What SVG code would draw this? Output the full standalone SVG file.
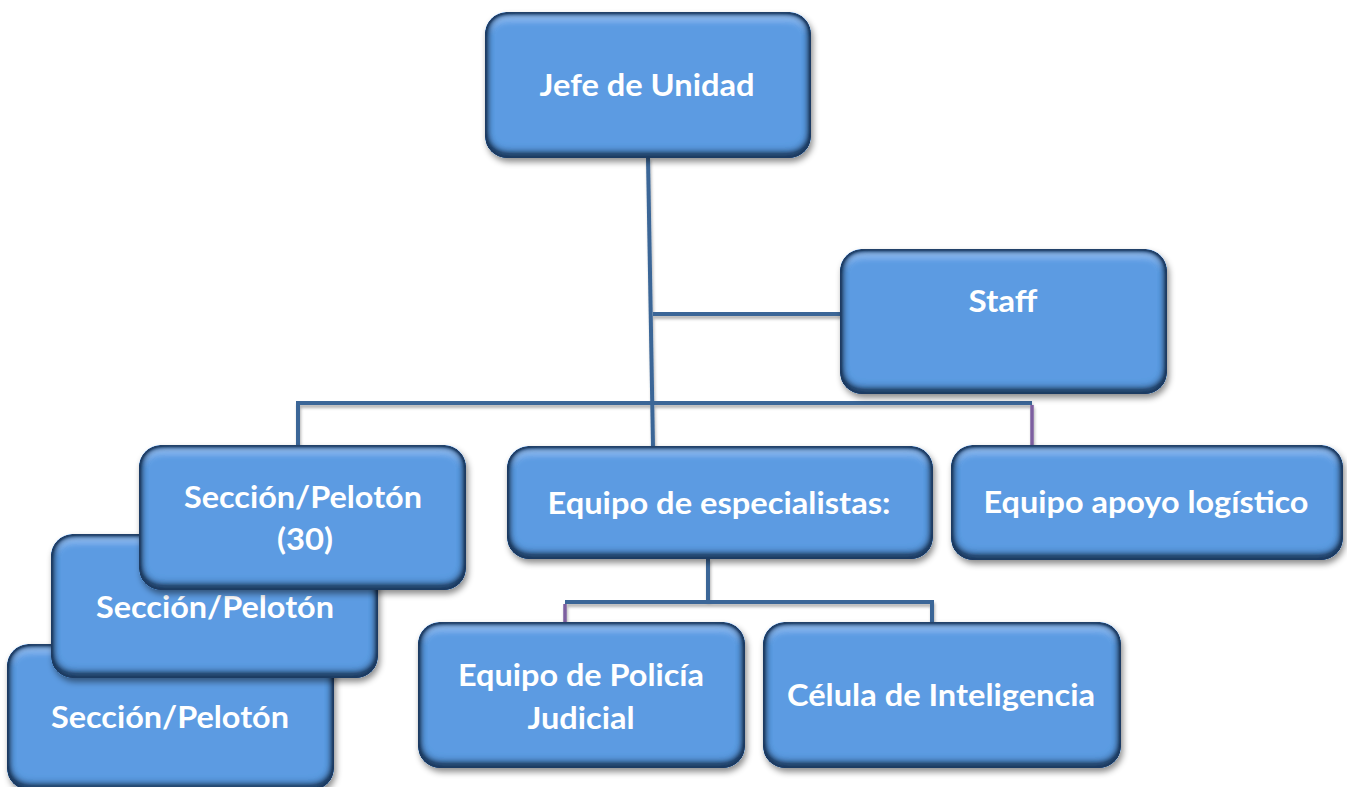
<svg xmlns="http://www.w3.org/2000/svg" width="1347" height="787" viewBox="0 0 1347 787">
  <defs>
    <filter id="bevel" x="-6%" y="-8%" width="114%" height="120%">
      <feGaussianBlur in="SourceAlpha" stdDeviation="4" result="b"/>
      <feComposite in="SourceAlpha" in2="b" operator="arithmetic" k2="2.6" k3="-2.6" result="edge"/>
      <feFlood flood-color="#1d3a60" flood-opacity="0.95"/>
      <feComposite in2="edge" operator="in" result="dark"/>
      <feOffset in="b" dy="-5" result="bb"/>
      <feComposite in="SourceAlpha" in2="bb" operator="arithmetic" k2="1.8" k3="-1.8" result="botm"/>
      <feFlood flood-color="#1a3456" flood-opacity="0.8"/>
      <feComposite in2="botm" operator="in" result="dark2"/>
      <feOffset in="b" dy="6" result="bo"/>
      <feComposite in="SourceAlpha" in2="bo" operator="arithmetic" k2="1.6" k3="-1.6" result="topm"/>
      <feComposite in="topm" in2="edge" operator="arithmetic" k2="1" k3="-0.9" result="hl"/>
      <feFlood flood-color="#a4ceff" flood-opacity="0.9"/>
      <feComposite in2="hl" operator="in" result="light"/>
      <feGaussianBlur in="SourceAlpha" stdDeviation="3" result="sb"/>
      <feOffset in="sb" dx="2" dy="4" result="so"/>
      <feFlood flood-color="#000" flood-opacity="0.45"/>
      <feComposite in2="so" operator="in" result="shadow"/>
      <feMerge>
        <feMergeNode in="shadow"/>
        <feMergeNode in="SourceGraphic"/>
        <feMergeNode in="light"/>
        <feMergeNode in="dark2"/>
        <feMergeNode in="dark"/>
      </feMerge>
    </filter>
    <filter id="lshadow" x="-10%" y="-10%" width="120%" height="120%">
      <feGaussianBlur in="SourceAlpha" stdDeviation="1.5" result="b"/>
      <feOffset in="b" dx="1" dy="3" result="o"/>
      <feFlood flood-color="#000" flood-opacity="0.3"/>
      <feComposite in2="o" operator="in" result="s"/>
      <feMerge><feMergeNode in="s"/><feMergeNode in="SourceGraphic"/></feMerge>
    </filter>
  </defs>
  <style>
    .box { fill: #5c9be2; filter: url(#bevel); }
    .t { font-family: Lato, "Open Sans", sans-serif; font-weight: bold; font-size: 31px; fill: #ffffff; text-anchor: middle; }
    .c { stroke: #3a6697; stroke-width: 4; fill: none; stroke-linecap: butt; }
    .p { stroke: #7d5fa0; stroke-width: 3.5; fill: none; }
  </style>
  <rect width="1347" height="787" fill="#ffffff"/>

  <g id="connectors" filter="url(#lshadow)">
    <line class="c" x1="648" y1="157" x2="653" y2="447"/>
    <line class="c" x1="653" y1="314" x2="841" y2="314"/>
    <polyline class="c" points="298,447 298,403 1032,403"/>
    <line class="p" x1="1032" y1="405" x2="1032" y2="446"/>
    <line class="c" x1="708" y1="558" x2="708" y2="602"/>
    <polyline class="c" points="565,602 932,602 932,623"/>
    <line class="p" x1="565" y1="604" x2="565" y2="623"/>
  </g>

  <g id="node-jefe">
    <rect class="box" x="485" y="12" width="326" height="146" rx="22"/>
    <text class="t" x="647" y="96" textLength="215" lengthAdjust="spacingAndGlyphs">Jefe de Unidad</text>
  </g>
  <g id="node-staff">
    <rect class="box" x="840" y="249" width="327" height="145" rx="22"/>
    <text class="t" x="1003" y="312" textLength="69" lengthAdjust="spacingAndGlyphs">Staff</text>
  </g>
  <g id="node-seccion-3">
    <rect class="box" x="7" y="644" width="327" height="146" rx="22"/>
    <text class="t" x="170" y="728" textLength="238" lengthAdjust="spacingAndGlyphs">Sección/Pelotón</text>
  </g>
  <g id="node-seccion-2">
    <rect class="box" x="51" y="534" width="327" height="144" rx="22"/>
    <text class="t" x="215" y="618" textLength="238" lengthAdjust="spacingAndGlyphs">Sección/Pelotón</text>
  </g>
  <g id="node-seccion-1">
    <rect class="box" x="139" y="445" width="327" height="145" rx="22"/>
    <text class="t" x="303" y="508" textLength="238" lengthAdjust="spacingAndGlyphs">Sección/Pelotón</text>
    <text class="t" x="305" y="550" textLength="56" lengthAdjust="spacingAndGlyphs">(30)</text>
  </g>
  <g id="node-especialistas">
    <rect class="box" x="507" y="446" width="426" height="113" rx="22"/>
    <text class="t" x="719" y="514" textLength="343" lengthAdjust="spacingAndGlyphs">Equipo de especialistas:</text>
  </g>
  <g id="node-logistico">
    <rect class="box" x="951" y="445" width="392" height="115" rx="22"/>
    <text class="t" x="1146" y="513" textLength="325" lengthAdjust="spacingAndGlyphs">Equipo apoyo logístico</text>
  </g>
  <g id="node-policia">
    <rect class="box" x="418" y="622" width="327" height="146" rx="22"/>
    <text class="t" x="581" y="686" textLength="246" lengthAdjust="spacingAndGlyphs">Equipo de Policía</text>
    <text class="t" x="581" y="729" textLength="107" lengthAdjust="spacingAndGlyphs">Judicial</text>
  </g>
  <g id="node-celula">
    <rect class="box" x="763" y="622" width="358" height="146" rx="22"/>
    <text class="t" x="941" y="706" textLength="308" lengthAdjust="spacingAndGlyphs">Célula de Inteligencia</text>
  </g>
</svg>
